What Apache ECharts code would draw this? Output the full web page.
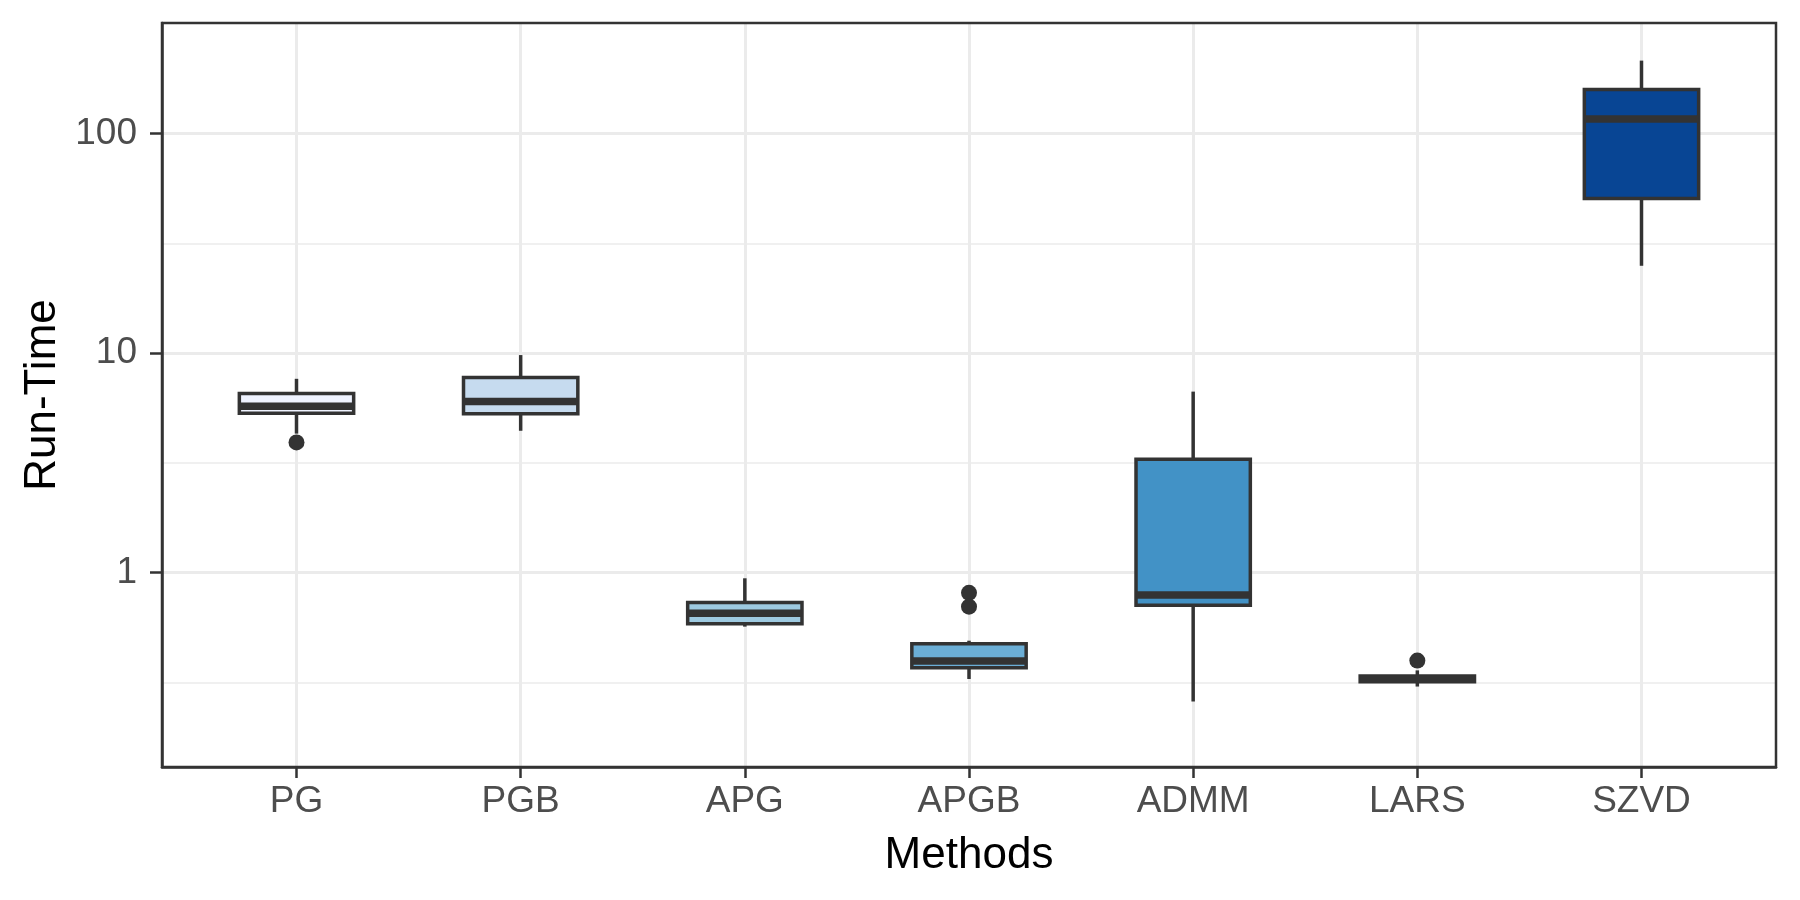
<!DOCTYPE html>
<html>
<head>
<meta charset="utf-8">
<title>Run-Time by method</title>
<script src="https://cdn.jsdelivr.net/npm/echarts@6/dist/echarts.min.js"></script>
<style>
    html, body { margin: 0; padding: 0; background: #fff; }
    #chart { width: 1800px; height: 900px; }
</style>
</head>
<body>
<div id="chart"></div>
<script>
// methods along the x axis, in plot order
var methods = ['PG', 'PGB', 'APG', 'APGB', 'ADMM', 'LARS', 'SZVD'];

// box stats (log scale): lower whisker, Q1, median, Q3, upper whisker
var whiskerLow = [4.3, 4.43, 0.568, 0.328, 0.259, 0.303, 25.0];
var q1 = [5.33, 5.3, 0.585, 0.369, 0.711, 0.319, 50.6];
var median = [5.73, 6.02, 0.653, 0.396, 0.792, 0.328, 116.6];
var q3 = [6.55, 7.75, 0.731, 0.474, 3.29, 0.338, 159];
var whiskerHigh = [7.64, 9.8, 0.943, 0.49, 6.68, 0.359, 215];

// outlier points: which method, and the value
var outlierMethod = [0, 3, 3, 5];
var outlierValue = [3.92, 0.81, 0.70, 0.398];

// tick positions
var majorTicks = [1, 10, 100];
var minorTicks = [0.3162, 3.162, 31.62];
var methodTicks = [0, 1, 2, 3, 4, 5, 6];

// Blues palette, one per method
var fills = ['#EFF3FF', '#C6DBEF', '#9ECAE1', '#6BAED6', '#4292C6', '#2171B5', '#084594'];

var font = '"Liberation Sans", Arial, sans-serif';
var ink = '#333333';
var gridGrey = '#EBEBEB';

var boxData = [];
for (var i = 0; i < methods.length; i++) {
    boxData.push([i, whiskerLow[i], q1[i], median[i], q3[i], whiskerHigh[i]]);
}
var outlierData = [];
for (var k = 0; k < outlierMethod.length; k++) {
    outlierData.push([outlierMethod[k], outlierValue[k]]);
}

// ggplot-like box: whiskers without caps, thick median line
function renderBox(params, api) {
    var idx = api.value(0);
    var lo = api.coord([idx, api.value(1)]);
    var bot = api.coord([idx, api.value(2)]);
    var mid = api.coord([idx, api.value(3)]);
    var top = api.coord([idx, api.value(4)]);
    var hi = api.coord([idx, api.value(5)]);
    var half = api.size([0.51, 0], [idx, 1])[0] / 2;
    var x = lo[0];
    var lineStyle = {stroke: ink, lineWidth: 3.5};
    return {
        type: 'group',
        children: [
            {type: 'line', shape: {x1: x, y1: hi[1], x2: x, y2: top[1]}, style: lineStyle},
            {type: 'line', shape: {x1: x, y1: bot[1], x2: x, y2: lo[1]}, style: lineStyle},
            {
                type: 'rect',
                shape: {x: x - half, y: top[1], width: half * 2, height: bot[1] - top[1]},
                style: {fill: fills[params.dataIndex], stroke: ink, lineWidth: 3.5}
            },
            {type: 'line', shape: {x1: x - half, y1: mid[1], x2: x + half, y2: mid[1]}, style: {stroke: ink, lineWidth: 7.5}}
        ]
    };
}

var myChart = echarts.init(document.getElementById('chart'));

var option = {
    backgroundColor: '#ffffff',
    animation: false,
    grid: {
        left: 162, right: 24, top: 23, bottom: 133,
        show: true,
        borderColor: ink,
        borderWidth: 2.5,
        z: 5
    },
    xAxis: {
        type: 'value',
        min: -0.6,
        max: 6.6,
        name: 'Methods',
        nameLocation: 'middle',
        nameGap: 67,
        nameTextStyle: {fontSize: 44, color: '#000000', fontFamily: font},
        axisLine: {show: true, onZero: false, lineStyle: {color: ink, width: 2.5}},
        axisTick: {show: true, customValues: methodTicks, length: 11, lineStyle: {color: ink, width: 2.5}},
        axisLabel: {
            customValues: methodTicks,
            formatter: function (v) { return methods[Math.round(v)]; },
            fontSize: 37, color: '#4D4D4D', fontFamily: font, margin: 16
        },
        splitLine: {show: true, lineStyle: {color: gridGrey, width: 3}}
    },
    yAxis: [
        {
            type: 'log',
            logBase: 10,
            min: 0.1303,
            max: 319,
            name: 'Run-Time',
            nameLocation: 'middle',
            nameGap: 96,
            nameTextStyle: {fontSize: 44, color: '#000000', fontFamily: font},
            axisLine: {show: true, onZero: false, lineStyle: {color: ink, width: 2.5}},
            axisTick: {show: true, customValues: majorTicks, length: 12, lineStyle: {color: ink, width: 2.5}},
            axisLabel: {
                customValues: majorTicks,
                formatter: function (v) { return String(Math.round(v)); },
                fontSize: 37, color: '#4D4D4D', fontFamily: font, margin: 25
            },
            splitLine: {show: true, lineStyle: {color: gridGrey, width: 3}}
        },
        {
            // minor gridlines only
            type: 'log',
            logBase: 10,
            min: 0.1303,
            max: 319,
            axisLine: {show: false, onZero: false},
            axisTick: {show: false, customValues: minorTicks},
            axisLabel: {show: false, customValues: minorTicks},
            splitLine: {show: true, lineStyle: {color: gridGrey, width: 1.6}}
        }
    ],
    series: [
        {
            name: 'boxes',
            type: 'custom',
            xAxisIndex: 0,
            yAxisIndex: 0,
            renderItem: renderBox,
            encode: {x: 0, y: [1, 2, 3, 4, 5]},
            data: boxData
        },
        {
            name: 'outliers',
            type: 'scatter',
            xAxisIndex: 0,
            yAxisIndex: 0,
            symbol: 'circle',
            symbolSize: 16,
            itemStyle: {color: ink, opacity: 1},
            data: outlierData
        }
    ]
};

myChart.setOption(option);
</script>
</body>
</html>
